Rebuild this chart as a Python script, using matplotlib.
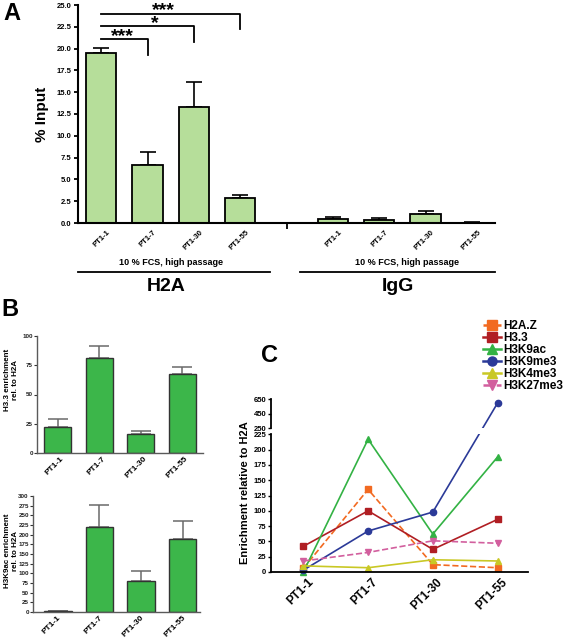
import numpy as np
import matplotlib
matplotlib.use('Agg')
import matplotlib.pyplot as plt
from matplotlib.lines import Line2D
from matplotlib.ticker import FormatStrFormatter, NullLocator
from matplotlib.transforms import ScaledTranslation

plt.rcParams['font.family'] = ['Liberation Sans', 'DejaVu Sans']
plt.rcParams['font.weight'] = 'bold'

# ---------------- data ----------------
samples = ['PT1-1', 'PT1-7', 'PT1-30', 'PT1-55']

# Panel A (% input)
h2a_vals = [19.5, 6.7, 13.3, 2.9]
h2a_err = [0.6, 1.4, 2.9, 0.35]
igg_vals = [0.42, 0.34, 1.0, 0.05]
igg_err = [0.22, 0.22, 0.33, 0.03]
sig_pairs = [(0, 1), (0, 2), (0, 3)]
sig_labels = ['***', '*', '***']
sig_heights = [21.1, 22.6, 24.0]
sig_drops = [19.3, 20.8, 22.2]
group_names = ['H2A', 'IgG']
group_note = '10 % FCS, high passage'

# Panel B
h33_vals = [22.3, 81.0, 16.6, 67.7]
h33_err = [6.6, 10.4, 2.5, 5.7]
k9ac_vals = [2.0, 219.0, 80.0, 190.0]
k9ac_err = [1.0, 59.0, 27.0, 46.0]

# Panel C
mark_names = ['H2A.Z', 'H3.3', 'H3K9ac', 'H3K9me3', 'H3K4me3', 'H3K27me3']
h2az = [6, 135, 12, 7]
h33 = [42, 100, 37, 86]
h3k9ac = [0, 217, 62, 188]
h3k9me3 = [3, 67, 98, 595]
h3k4me3 = [10, 7, 20, 18]
h3k27me3 = [18, 32, 51, 47]
c_yticks = [0, 25, 50, 75, 100, 125, 150, 175, 200, 225, 250, 450, 650]

# ---------------- figure ----------------
W, H = 567, 640
fig = plt.figure(figsize=(W / 100, H / 100), dpi=100)


def px_axes(left, top, right, bottom):
    return fig.add_axes([left / W, 1 - bottom / H, (right - left) / W, (bottom - top) / H])


def shift_labels(ax, dx_px, dy_px=0):
    off = ScaledTranslation(dx_px / 100, dy_px / 100, fig.dpi_scale_trans)
    for lab in ax.get_xticklabels():
        lab.set_transform(lab.get_transform() + off)


# ---------- Panel A ----------
axA = px_axes(78, 5, 495, 223)
xa1 = np.arange(4)
xa2 = np.arange(4) + 5
light_green = '#b6de9a'
axA.bar(xa1, h2a_vals, width=0.65, color=light_green, edgecolor='black', linewidth=1.3, zorder=2)
axA.bar(xa2, igg_vals, width=0.65, color=light_green, edgecolor='black', linewidth=1.3, zorder=2)
axA.errorbar(xa1, h2a_vals, yerr=[np.zeros(4), h2a_err], fmt='none', ecolor='black',
             elinewidth=1.2, capsize=6, capthick=1.2, zorder=1)
axA.errorbar(xa2, igg_vals, yerr=[np.zeros(4), igg_err], fmt='none', ecolor='black',
             elinewidth=1.2, capsize=6, capthick=1.2, zorder=1)
axA.set_xlim(-0.5, 8.5)
axA.set_ylim(0, 25)
axA.set_yticks(np.arange(0, 25.1, 2.5))
axA.yaxis.set_major_formatter(FormatStrFormatter('%.1f'))
axA.set_xticks(list(xa1) + list(xa2))
axA.set_xticklabels(samples * 2, rotation=45, ha='right', va='center',
                    rotation_mode='anchor', fontsize=5.5, fontweight='bold')
axA.set_xticks([4], minor=True)
axA.tick_params(axis='x', which='major', length=0, pad=6)
axA.tick_params(axis='x', which='minor', length=4, width=1.3, direction='out')
axA.tick_params(axis='y', length=3, width=1.3, labelsize=5.5, pad=1.5)
for s in ['top', 'right']:
    axA.spines[s].set_visible(False)
for s in ['left', 'bottom']:
    axA.spines[s].set_linewidth(1.5)
shift_labels(axA, 8)
axA.set_ylabel('% Input', fontsize=11, fontweight='bold', labelpad=6)

text_x = [0.45, 1.15, 1.35]
for (x0, x1), lab, hgt, drp, tx in zip(sig_pairs, sig_labels, sig_heights, sig_drops, text_x):
    axA.plot([x0, x1, x1], [hgt, hgt, drp], color='black', lw=1.3, clip_on=False)
    axA.text(tx, hgt - 0.2, lab, ha='center', va='baseline', fontsize=14, fontweight='bold',
             clip_on=False)

trA = axA.get_xaxis_transform()
group_spans = [(-0.5, 3.65), (4.3, 8.5)]
group_text_x = [1.5, 6.6]
group_name_x = [1.4, 6.4]
for (g0, g1), name, tx, nx in zip(group_spans, group_names, group_text_x, group_name_x):
    axA.text(tx, -0.183, group_note, transform=trA, ha='center', va='center', fontsize=6.5,
             fontweight='bold')
    axA.plot([g0, g1], [-0.225, -0.225], transform=trA, color='black', lw=1.3, clip_on=False)
    axA.text(nx, -0.29, name, transform=trA, ha='center', va='center', fontsize=14,
             fontweight='bold')

# ---------- Panel B ----------
green = '#3cb64a'
gray = '#5a5a5a'


def panel_b(ax, vals, errs, ymax, step, shift):
    xb = np.arange(4)
    ax.bar(xb, vals, width=0.66, color=green, edgecolor='#333333', linewidth=1.0, zorder=2)
    ax.errorbar(xb, vals, yerr=[np.zeros(4), errs], fmt='none', ecolor='#6a6a6a',
                elinewidth=1.1, capsize=7, capthick=1.1, zorder=1)
    ax.set_ylim(0, ymax)
    ax.set_yticks(np.arange(0, ymax + 1, step))
    ax.set_xticks(xb)
    ax.set_xticklabels(samples, rotation=45, ha='right', va='center', rotation_mode='anchor',
                       fontsize=6, fontweight='bold')
    ax.tick_params(axis='x', length=0, pad=3.5)
    ax.tick_params(axis='y', length=2, width=0.8, labelsize=4.5, pad=1, colors='#333333',
                   labelcolor='#222222')
    for s in ['top', 'right']:
        ax.spines[s].set_visible(False)
    for s in ['left', 'bottom']:
        ax.spines[s].set_color(gray)
        ax.spines[s].set_linewidth(1.0)
    shift_labels(ax, shift)


axB1 = px_axes(37, 336, 203, 453)
axB1.set_xlim(-0.5, 3.5)
panel_b(axB1, h33_vals, h33_err, 100, 25, 5)
axB2 = px_axes(33, 496, 200, 612)
axB2.set_xlim(-0.6, 3.42)
panel_b(axB2, k9ac_vals, k9ac_err, 300, 25, 2)
fig.text(11.5 / W, 1 - 380 / H, 'H3.3 enrichment\nrel. to H2A', rotation=90, ha='center',
         va='center', fontsize=5.8, fontweight='bold', linespacing=1.05)
fig.text(11.5 / W, 1 - 551 / H, 'H3K9ac enrichment\nrel. to H2A', rotation=90, ha='center',
         va='center', fontsize=5.8, fontweight='bold', linespacing=1.05)

# ---------- Panel C ----------
BRK_LO, BRK_HI, GAP, K = 225.0, 250.0, 9.8, 0.12


def fwd(y):
    y = np.asarray(y, dtype=float)
    return np.where(y <= BRK_LO, y,
                    np.where(y < BRK_HI, BRK_LO + (y - BRK_LO) * GAP / (BRK_HI - BRK_LO),
                             BRK_LO + GAP + (y - BRK_HI) * K))


def inv(z):
    z = np.asarray(z, dtype=float)
    return np.where(z <= BRK_LO, z,
                    np.where(z < BRK_LO + GAP, BRK_LO + (z - BRK_LO) * (BRK_HI - BRK_LO) / GAP,
                             BRK_HI + (z - BRK_LO - GAP) / K))


axC = px_axes(271, 399, 528, 572)
axC.set_yscale('function', functions=(fwd, inv))
xc = np.arange(4)
series = [h2az, h33, h3k9ac, h3k9me3, h3k4me3, h3k27me3]
colors = ['#f26a21', '#b01e23', '#33b244', '#2b3a98', '#c9c825', '#d25f9e']
styles = ['--', '-', '-', '-', '-', '--']
markers = ['s', 's', '^', 'o', '^', 'v']
handles = []
for vals, c, ls, m, name in zip(series, colors, styles, markers, mark_names):
    axC.plot(xc, vals, color=c, ls=ls, lw=1.2, marker=m, ms=4.5, zorder=2, clip_on=False)
    handles.append(Line2D([], [], color=c, ls=ls, lw=1.8, marker=m, ms=6.5, label=name))
axC.axhspan(BRK_LO, BRK_HI, xmin=0.01, xmax=1, color='white', zorder=2.6, lw=0)
axC.set_xlim(-0.5, 3.47)
axC.set_ylim(0, 650)
axC.set_yticks(c_yticks)
axC.set_yticklabels([str(v) for v in c_yticks])
axC.yaxis.set_minor_locator(NullLocator())
axC.set_xticks(xc)
axC.set_xticklabels(samples, rotation=45, ha='right', va='center', rotation_mode='anchor',
                    fontsize=8.5, fontweight='bold')
axC.tick_params(axis='x', length=0, pad=6)
axC.tick_params(axis='y', length=2.5, width=1.0, labelsize=5.5, pad=1)
for s in ['top', 'right', 'left']:
    axC.spines[s].set_visible(False)
axC.spines['bottom'].set_linewidth(1.3)
ytr = axC.get_yaxis_transform()
axC.plot([0, 0], [0, BRK_LO], transform=ytr, color='black', lw=1.3, clip_on=False, zorder=3)
axC.plot([0, 0], [BRK_HI, 650], transform=ytr, color='black', lw=1.3, clip_on=False, zorder=3)
shift_labels(axC, 8)
fig.text(245 / W, 1 - 493 / H, 'Enrichment relative to H2A', rotation=90, ha='center',
         va='center', fontsize=8, fontweight='bold')
fig.legend(handles=handles, loc='upper left', bbox_to_anchor=(483 / W, 1 - 320 / H),
           frameon=False, handlelength=1.5, handletextpad=0.2,
           labelspacing=0.0, borderpad=0, borderaxespad=0, prop={'weight': 'bold', 'size': 8.5})

# panel letters
fig.text(12 / W, 1 - 13 / H, 'A', fontsize=17, fontweight='bold', ha='center', va='center')
fig.text(10 / W, 1 - 310 / H, 'B', fontsize=17, fontweight='bold', ha='center', va='center')
fig.text(270 / W, 1 - 356 / H, 'C', fontsize=17, fontweight='bold', ha='center', va='center')

fig.savefig('out.png', dpi=100)
